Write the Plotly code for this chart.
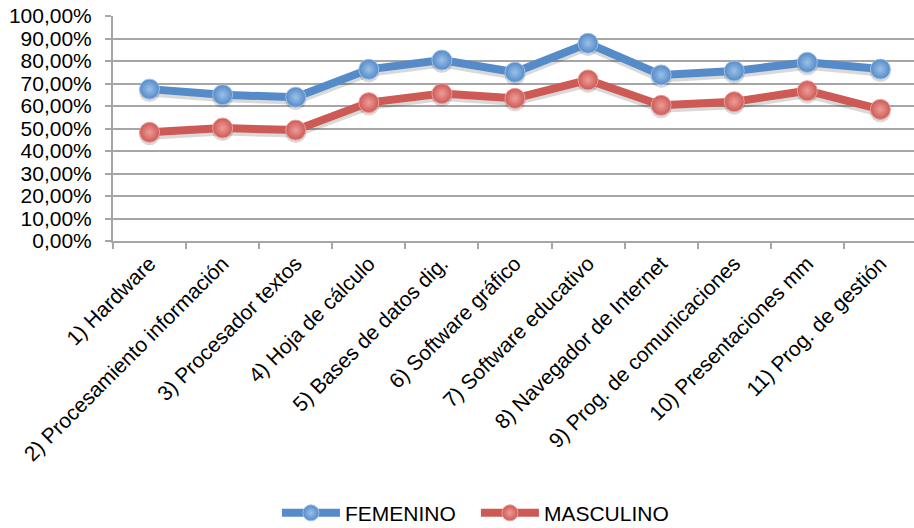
import plotly.graph_objects as go

# Competence areas (x categories)
categorias = [
    "1) Hardware",
    "2) Procesamiento información",
    "3) Procesador textos",
    "4) Hoja de cálculo",
    "5) Bases de datos dig.",
    "6) Software gráfico",
    "7) Software educativo",
    "8) Navegador de Internet",
    "9) Prog. de comunicaciones",
    "10) Presentaciones mm",
    "11) Prog. de gestión",
]

# Percentages by gender
femenino = [67.5, 65.0, 63.9, 76.3, 80.4, 75.0, 87.9, 73.8, 75.6, 79.4, 76.4]
masculino = [48.3, 50.2, 49.3, 61.5, 65.5, 63.4, 71.6, 60.3, 61.9, 66.8, 58.5]

# Y-axis ticks
y_ticks = [0, 10, 20, 30, 40, 50, 60, 70, 80, 90, 100]
y_ticktext = [f"{v},00%" for v in y_ticks]

AZUL = "#548BC8"
ROJO = "#CD5A55"
FONT = "Liberation Sans, Arial, sans-serif"

fig = go.Figure()

# soft drop shadows under each series
for serie in (femenino, masculino):
    fig.add_trace(go.Scatter(
        x=categorias, y=[v - 1.1 for v in serie],
        mode="lines+markers",
        line=dict(color="rgba(0,0,0,0.15)", width=10),
        marker=dict(size=21, color="rgba(0,0,0,0.15)"),
        showlegend=False, hoverinfo="skip",
    ))

for nombre, serie, color, claro in (
    ("FEMENINO", femenino, AZUL, "#9CC0E8"),
    ("MASCULINO", masculino, ROJO, "#EE9C98"),
):
    fig.add_trace(go.Scatter(
        x=categorias, y=serie, name=nombre,
        mode="lines+markers",
        line=dict(color=color, width=8),
        marker=dict(size=20, color=color,
                    gradient=dict(type="radial", color=claro),
                    line=dict(color=claro, width=1)),
    ))

fig.update_layout(
    width=914, height=528,
    margin=dict(l=113, r=0, t=16, b=287),
    paper_bgcolor="white", plot_bgcolor="white",
    font=dict(family=FONT, size=21, color="#000000"),
    showlegend=True,
    legend=dict(
        orientation="h", xref="container", yref="container",
        x=0.303, y=0.028, xanchor="left", yanchor="middle",
        font=dict(size=21), itemwidth=58, entrywidth=126,
        traceorder="normal",
    ),
)

fig.update_xaxes(
    type="category", range=[-0.5, 10.46],
    showgrid=False, showline=True, linecolor="#A6A6A6", linewidth=2,
    ticks="outside", tickson="boundaries", ticklen=6, tickcolor="#A6A6A6", tickwidth=2,
    tickangle=-45, tickfont=dict(size=21), automargin=False,
)

fig.update_yaxes(
    range=[0, 100], tickvals=y_ticks, ticktext=y_ticktext,
    showgrid=True, gridcolor="#A6A6A6", gridwidth=2,
    showline=True, linecolor="#A6A6A6", linewidth=2,
    ticks="outside", ticklen=6, tickcolor="#A6A6A6", tickwidth=2,
    ticklabelstandoff=9,
    tickfont=dict(size=21), automargin=False, zeroline=False,
)

fig.write_html("out.html")
